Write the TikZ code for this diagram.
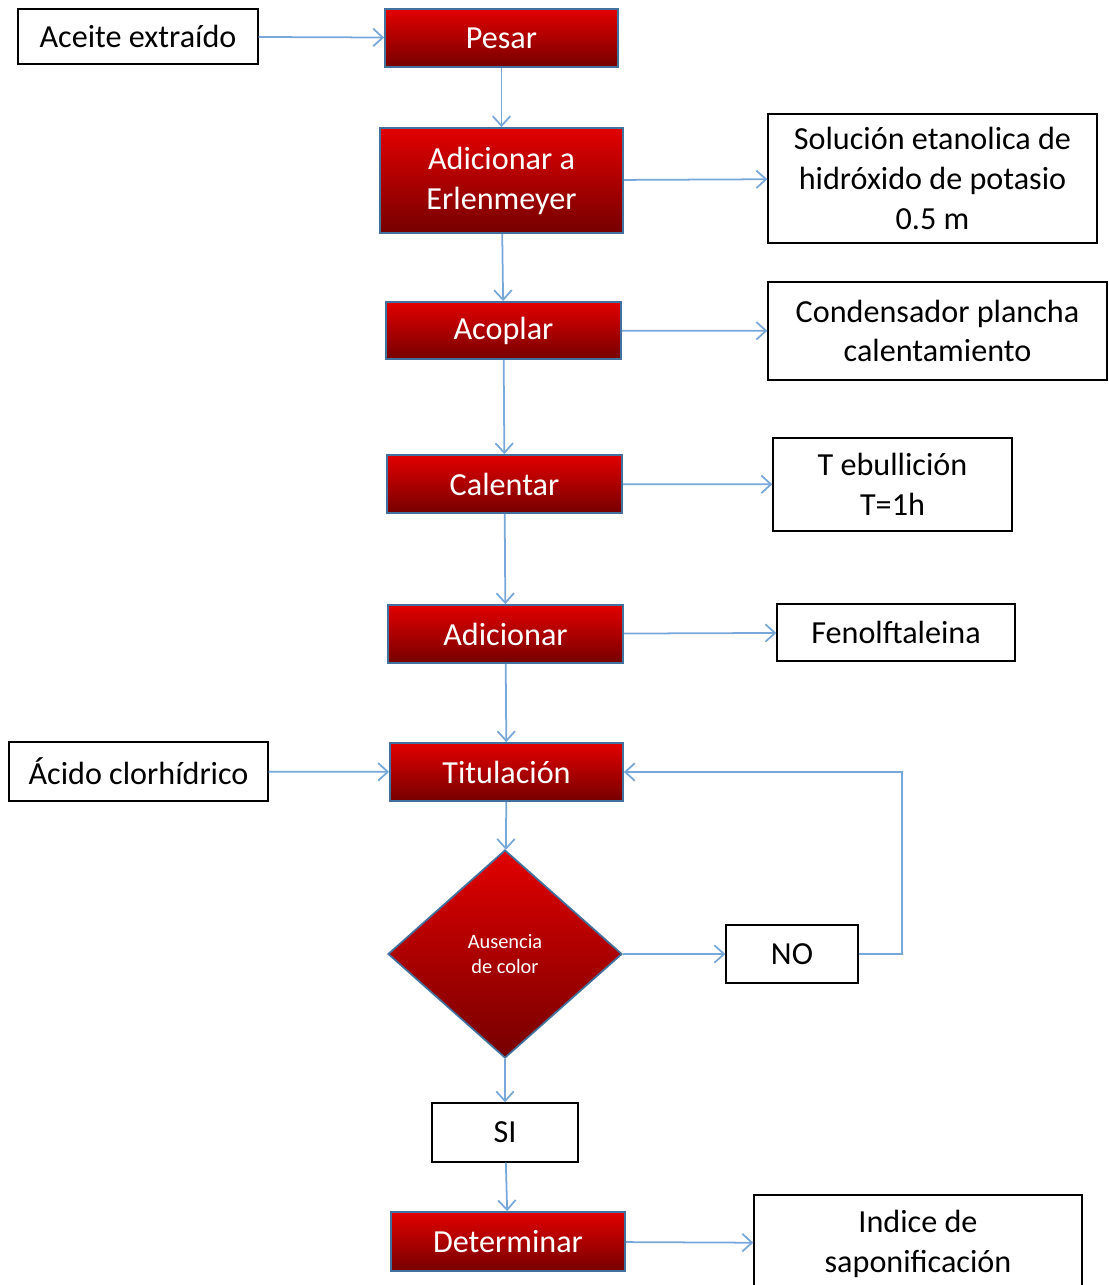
\documentclass[tikz,border=0pt]{standalone}
\usepackage{fontspec}
\setmainfont{Carlito}
\usepackage{xcolor}
\usepackage{tikz}
\usetikzlibrary{arrows.meta}
\usetikzlibrary{shapes.geometric}
\definecolor{flecha}{RGB}{120,168,218}
\definecolor{rojoalto}{RGB}{226,0,0}
\definecolor{rojobajo}{RGB}{118,0,0}
\definecolor{borde}{RGB}{65,113,156}
\tikzset{>={Straight Barb[length=5.5pt,width=10pt]}}
\tikzstyle{paso} = [rectangle, draw=borde, line width=1pt, top color=rojoalto, bottom color=rojobajo, text=white, align=center, inner sep=0pt, font=\fontsize{18.3}{22.7}\selectfont]
\tikzstyle{dato} = [rectangle, draw=black, line width=0.8pt, fill=white, align=center, inner sep=0pt, font=\fontsize{18.3}{22.7}\selectfont]
\tikzstyle{flujo} = [->, draw=flecha, line width=1pt]

\begin{document}
\begin{tikzpicture}
\useasboundingbox (0, 0) rectangle (22.16, -25.7);
\node [dato, minimum width=4.8cm, minimum height=1.1cm] (ACE) at (2.76, -0.73) {Aceite extraído};
\node [paso, minimum width=4.66cm, minimum height=1.16cm] (PES) at (10.03, -0.76) {Pesar};
\node [paso, minimum width=4.86cm, minimum height=2.1cm] (ERL) at (10.03, -3.61) {Adicionar a\\Erlenmeyer};
\node [dato, minimum width=6.58cm, minimum height=2.58cm] (SOL) at (18.65, -3.57) {Solución etanolica de\\hidróxido de potasio\\0.5 m};
\node [paso, minimum width=4.7cm, minimum height=1.14cm] (ACO) at (10.07, -6.61) {Acoplar};
\node [dato, minimum width=6.78cm, minimum height=1.96cm] (CON) at (18.75, -6.62) {Condensador plancha\\calentamiento};
\node [paso, minimum width=4.7cm, minimum height=1.16cm] (CAL) at (10.09, -9.68) {Calentar};
\node [dato, minimum width=4.78cm, minimum height=1.86cm] (TEB) at (17.85, -9.69) {T ebullición\\T=1h};
\node [paso, minimum width=4.7cm, minimum height=1.16cm] (ADI) at (10.11, -12.68) {Adicionar};
\node [dato, minimum width=4.76cm, minimum height=1.14cm] (FEN) at (17.92, -12.65) {Fenolftaleina};
\node [dato, minimum width=5.18cm, minimum height=1.18cm] (ACI) at (2.77, -15.43) {Ácido clorhídrico};
\node [paso, minimum width=4.66cm, minimum height=1.16cm] (TIT) at (10.13, -15.44) {Titulación};
\node [paso, diamond, minimum width=4.68cm, minimum height=4.16cm, font=\fontsize{11.6}{14.7}\selectfont] (AUS) at (10.10, -19.08) {Ausencia\\de color};
\node [dato, minimum width=2.64cm, minimum height=1.16cm] (NO) at (15.84, -19.08) {NO};
\node [dato, minimum width=2.92cm, minimum height=1.18cm] (SI) at (10.10, -22.65) {SI};
\node [paso, minimum width=4.68cm, minimum height=1.18cm] (DET) at (10.16, -24.83) {Determinar};
\node [dato, minimum width=6.56cm, minimum height=1.94cm] (IND) at (18.36, -24.87) {Indice de\\saponificación};
\draw [flujo] (ACE) to (PES);
\draw [flujo] (PES) to (ERL);
\draw [flujo] (ERL) to (SOL);
\draw [flujo] (ERL) to (ACO);
\draw [flujo] (ACO) to (CON);
\draw [flujo] (ACO) to (CAL);
\draw [flujo] (CAL) to (TEB);
\draw [flujo] (CAL) to (ADI);
\draw [flujo] (ADI) to (FEN);
\draw [flujo] (ADI) to (TIT);
\draw [flujo] (ACI) to (TIT);
\draw [flujo] (TIT) to (AUS);
\draw [flujo] (AUS) to (NO);
\draw [flujo] (NO.east) -- ++(0.86, 0) |- (TIT.east);
\draw [flujo] (AUS) to (SI);
\draw [flujo] (SI) to (DET);
\draw [flujo] (DET) to (IND);
\end{tikzpicture}
\end{document}
